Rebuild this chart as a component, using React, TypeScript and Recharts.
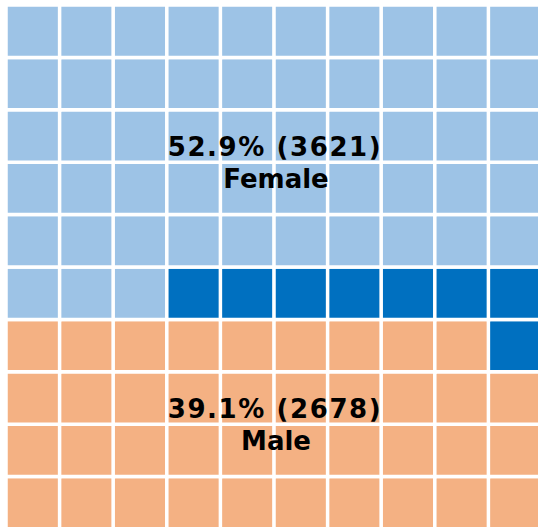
import React from "react";
import { BarChart, Bar, Cell, XAxis, YAxis, ReferenceArea } from "recharts";

// waffle: 10 x 10 cells, one cell per percent
const categories = ["Female", "Other", "Male"];
const counts = [3621, 548, 2678];
const colors = ["#9DC3E6", "#0070C0", "#F4B183"];
const showLabel = [true, false, true];

const GRID = 10;
const total = counts.reduce((a, b) => a + b, 0);
const pcts = counts.map((c) => (c / total) * 100);
const cellCounts = pcts.map((p) => Math.round(p));

// fill order snakes row by row from the top
const owner: number[][] = Array.from({ length: GRID }, () => Array(GRID).fill(0));
{
  let k = 0;
  cellCounts.forEach((n, cat) => {
    for (let i = 0; i < n && k < GRID * GRID; i++, k++) {
      const row = Math.floor(k / GRID);
      const p = k % GRID;
      const col = row % 2 === 1 ? p : GRID - 1 - p;
      owner[row][col] = cat;
    }
  });
}

const rows = Array.from({ length: GRID }, (_, r) => r);
const data = Array.from({ length: GRID }, (_, col) => {
  const d: Record<string, number> = { col };
  rows.forEach((r) => (d[`r${r}`] = 1));
  return d;
});

// row extents per category (y value: bottom row = 0)
const regions = categories.map((_, cat) => {
  const rs = rows.filter((r) => owner[r].some((o) => o === cat));
  return { y1: GRID - 1 - Math.max(...rs), y2: GRID - Math.min(...rs) };
});

function TwoLineLabel({ viewBox, line1, line2 }: any) {
  if (!viewBox) return null;
  const cx = viewBox.x + viewBox.width / 2;
  const cy = viewBox.y + viewBox.height / 2;
  return (
    <text
      textAnchor="middle"
      fontFamily="DejaVu Sans, Verdana, sans-serif"
      fontWeight="bold"
      fontSize={26}
      fill="#000"
    >
      <tspan x={cx + 1} y={cy - 6} letterSpacing={1.6}>{line1}</tspan>
      <tspan x={cx + 2} y={cy + 25.5}>{line2}</tspan>
    </text>
  );
}

export default function App() {
  return (
    <div
      style={{
        position: "fixed",
        left: 0,
        top: 0,
        width: 538,
        height: 527,
        overflow: "hidden",
        background: "#fff",
      }}
    >
      <BarChart
        width={542}
        height={529}
        data={data}
        margin={{ top: 5, left: 6, right: 0, bottom: 0 }}
        barCategoryGap={0}
        barGap={0}
      >
        <XAxis dataKey="col" type="category" hide />
        <YAxis type="number" domain={[0, GRID]} hide />
        {[...rows].reverse().map((r) => (
          <Bar
            key={r}
            dataKey={`r${r}`}
            stackId="grid"
            stroke="#fff"
            strokeWidth={3.5}
            isAnimationActive={false}
          >
            {data.map((d) => (
              <Cell key={d.col} fill={colors[owner[r][d.col]]} />
            ))}
          </Bar>
        ))}
        {categories.map((name, cat) =>
          showLabel[cat] ? (
            <ReferenceArea
              key={name}
              x1={0}
              x2={GRID - 1}
              y1={regions[cat].y1}
              y2={regions[cat].y2}
              fill="#fff"
              fillOpacity={0}
              strokeOpacity={0}
              ifOverflow="visible"
              zIndex={2500}
              label={
                <TwoLineLabel
                  line1={`${pcts[cat].toFixed(1)}% (${counts[cat]})`}
                  line2={name}
                />
              }
            />
          ) : null
        )}
      </BarChart>
    </div>
  );
}
